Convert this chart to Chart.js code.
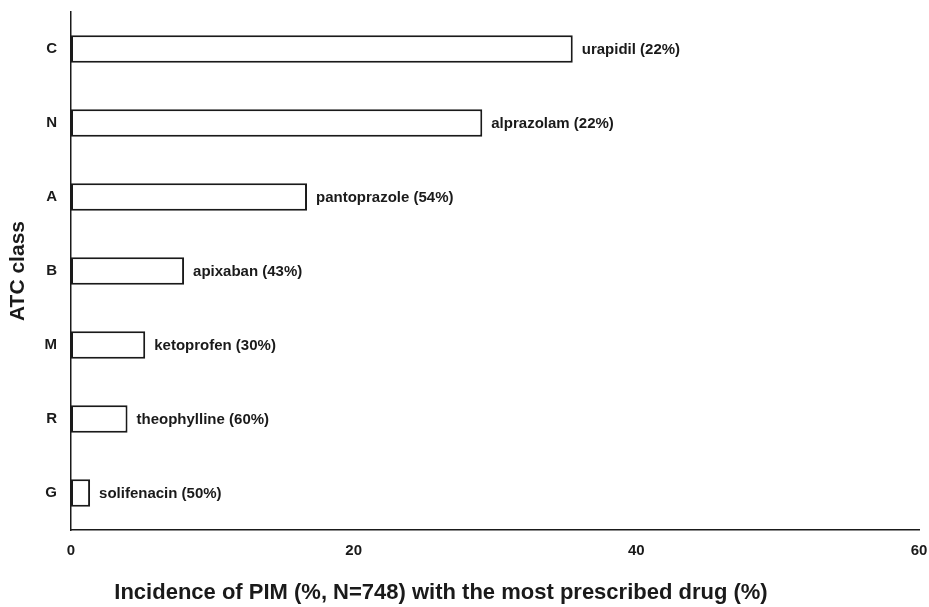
<!DOCTYPE html>
<html>
<head>
<meta charset="utf-8">
<script src="https://cdn.jsdelivr.net/npm/chart.js@4"></script>
<style>
  html, body { margin: 0; padding: 0; background: #fff; }
  #wrap { width: 929px; height: 607px; }
</style>
</head>
<body>
<div id="wrap"><canvas id="pimChart" width="929" height="607"></canvas></div>
<script>
const atcClasses = ['C', 'N', 'A', 'B', 'M', 'R', 'G'];
const pimIncidence = [35.5, 29.1, 16.7, 8.0, 5.25, 4.0, 1.35];
const topDrugs = ['urapidil', 'alprazolam', 'pantoprazole', 'apixaban', 'ketoprofen', 'theophylline', 'solifenacin'];
const topDrugShare = [22, 22, 54, 43, 30, 60, 50];
const xTicks = [0, 20, 40, 60];

const FONT = "'Liberation Sans', Arial, sans-serif";
const INK = '#1a1a1a';

// drug label right of every bar, placed from the bar element itself
const barLabels = {
    id: 'barLabels',
    afterDatasetsDraw(chart) {
        const ctx = chart.ctx;
        const meta = chart.getDatasetMeta(0);
        ctx.save();
        ctx.font = `bold 15px ${FONT}`;
        ctx.fillStyle = INK;
        ctx.textAlign = 'left';
        ctx.textBaseline = 'middle';
        meta.data.forEach((bar, i) => {
            ctx.fillText(`${topDrugs[i]} (${topDrugShare[i]}%)`, bar.x + 9, bar.y + 1);
        });
        ctx.restore();
    }
};

// x axis title sits left of the plot centre in the original
const xTitle = {
    id: 'xTitle',
    afterDraw(chart) {
        const ctx = chart.ctx;
        ctx.save();
        ctx.font = `bold 22px ${FONT}`;
        ctx.fillStyle = INK;
        ctx.textAlign = 'center';
        ctx.textBaseline = 'middle';
        ctx.fillText('Incidence of PIM (%, N=748) with the most prescribed drug (%)', 441, 593);
        ctx.restore();
    }
};

new Chart(document.getElementById('pimChart'), {
    type: 'bar',
    data: {
        labels: atcClasses,
        datasets: [{
            data: pimIncidence,
            backgroundColor: '#ffffff',
            borderColor: INK,
            borderWidth: 2,
            borderSkipped: false,
            barPercentage: 0.37,
            categoryPercentage: 1
        }]
    },
    options: {
        indexAxis: 'y',
        responsive: false,
        animation: false,
        layout: { padding: { top: 12, right: 10, left: 0, bottom: 0 } },
        plugins: {
            legend: { display: false },
            tooltip: { enabled: false }
        },
        scales: {
            x: {
                min: 0,
                max: 60,
                afterBuildTicks: (scale) => { scale.ticks = xTicks.map(v => ({ value: v })); },
                afterFit: (scale) => {
                    scale.height = 77;
                    scale.paddingLeft = 0;
                    scale.paddingRight = 0;
                },
                grid: { display: false },
                border: { display: true, color: INK, width: 1.5 },
                ticks: {
                    color: INK,
                    padding: 4,
                    maxRotation: 0,
                    font: { family: FONT, weight: 'bold', size: 15 }
                }
            },
            y: {
                afterFit: (scale) => {
                    scale.width = 71;
                    scale.paddingTop = 0;
                    scale.paddingBottom = 0;
                },
                grid: { display: false },
                border: { display: true, color: INK, width: 1.5 },
                ticks: {
                    color: INK,
                    padding: 6,
                    font: { family: FONT, weight: 'bold', size: 15 }
                },
                title: {
                    display: true,
                    text: 'ATC class',
                    color: INK,
                    padding: { top: 6, bottom: 0 },
                    font: { family: FONT, weight: 'bold', size: 21 }
                }
            }
        }
    },
    plugins: [barLabels, xTitle]
});
</script>
</body>
</html>
